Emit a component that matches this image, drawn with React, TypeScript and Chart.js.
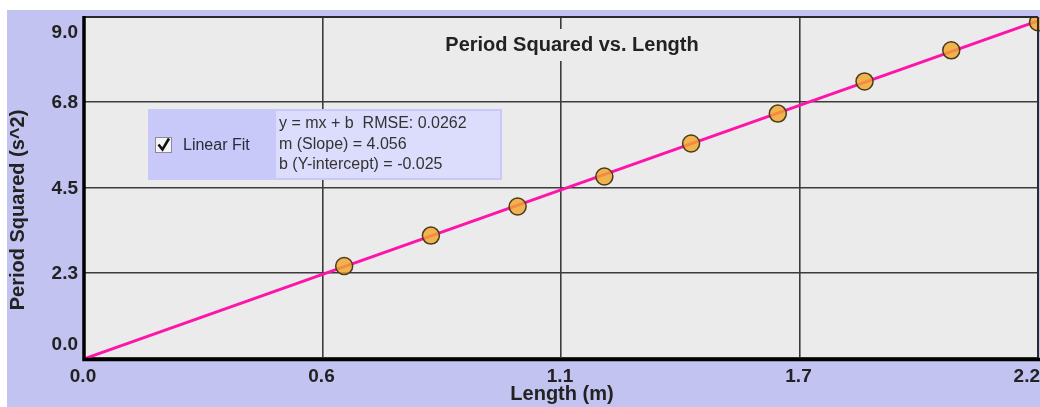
import React, { useEffect, useRef } from "react";
import { Chart, registerables } from "chart.js";

Chart.register(...registerables);

const lengths = [0.6, 0.8, 1.0, 1.2, 1.4, 1.6, 1.8, 2.0, 2.2];
const periodSquared = [2.43, 3.23, 4.0, 4.79, 5.66, 6.45, 7.3, 8.12, 8.86];
const fitX = [0, 2.2];
const fitY = [-0.025, 8.898];
const xTickValues = [0, 0.55, 1.1, 1.65, 2.2];
const xTickLabels = ["0.0", "0.6", "1.1", "1.7", "2.2"];
const yTickValues = [0, 2.25, 4.5, 6.75, 9];
const yTickLabels = ["0.0", "2.3", "4.5", "6.8", "9.0"];
const fitLines = ["y = mx + b  RMSE: 0.0262", "m (Slope) = 4.056", "b (Y-intercept) = -0.025"];
const titleText = "Period Squared vs. Length";
const xTitle = "Length (m)";
const yTitle = "Period Squared (s^2)";
const legendLabel = "Linear Fit";

const FONT = "'Liberation Sans', Arial, Helvetica, sans-serif";
const LAV = "#c3c3f1";
const TEXT = "#222222";

const decoPlugin = {
  id: "deco",
  beforeDraw(chart: any) {
    const { ctx, width, height, chartArea: a } = chart;
    ctx.save();
    ctx.fillStyle = "#ffffff";
    ctx.fillRect(0, 0, width, height);
    ctx.fillStyle = LAV;
    ctx.fillRect(7, 10, width - 7, height - 10);
    ctx.fillStyle = "#ebebeb";
    ctx.fillRect(a.left, a.top, a.right - a.left, a.bottom - a.top);
    ctx.restore();
  },
  afterDraw(chart: any) {
    const { ctx, chartArea: a, scales } = chart;
    const xs = scales.x;
    const ys = scales.y;
    ctx.save();

    // borders
    ctx.lineCap = "butt";
    ctx.strokeStyle = "#2a2a2a";
    ctx.lineWidth = 2;
    ctx.beginPath();
    ctx.moveTo(a.left, a.top);
    ctx.lineTo(a.right, a.top);
    ctx.moveTo(a.right, a.top);
    ctx.lineTo(a.right, a.bottom);
    ctx.stroke();
    ctx.strokeStyle = "#000";
    ctx.lineWidth = 3.5;
    ctx.beginPath();
    ctx.moveTo(a.left, a.top - 1);
    ctx.lineTo(a.left, a.bottom + 1.5);
    ctx.lineTo(a.right + 2, a.bottom + 1.5);
    ctx.stroke();

    // title with backdrop
    ctx.font = `bold 20px ${FONT}`;
    const tw = ctx.measureText(titleText).width;
    const tcx = 572;
    ctx.fillStyle = "#ebebeb";
    ctx.fillRect(tcx - tw / 2 - 6, 29, tw + 12, 32);
    ctx.fillStyle = TEXT;
    ctx.textAlign = "center";
    ctx.textBaseline = "middle";
    ctx.fillText(titleText, tcx, 45);

    // legend box
    const lx = 148, ly = 109, lw = 354, lh = 71, split = 276;
    ctx.fillStyle = "#c9c9f9";
    ctx.fillRect(lx, ly, lw, lh);
    ctx.fillStyle = "#dcdcfc";
    ctx.fillRect(split, ly + 2, lx + lw - split - 2, lh - 4);
    // checkbox
    ctx.fillStyle = "#f4f4f4";
    ctx.fillRect(155, 137, 17, 16);
    ctx.strokeStyle = "#8a8a9a";
    ctx.lineWidth = 1;
    ctx.strokeRect(155.5, 137.5, 16, 15);
    ctx.strokeStyle = "#111";
    ctx.lineWidth = 2.6;
    ctx.beginPath();
    ctx.moveTo(158.5, 144.5);
    ctx.lineTo(162.5, 149.5);
    ctx.lineTo(169, 138.5);
    ctx.stroke();
    ctx.fillStyle = "#2a2a3a";
    ctx.font = `16px ${FONT}`;
    ctx.textAlign = "left";
    ctx.textBaseline = "middle";
    ctx.fillText(legendLabel, 183, 146);
    ctx.fillStyle = "#333";
    ctx.font = `16px ${FONT}`;
    const lineYs = [124, 145, 165];
    fitLines.forEach((t, i) => ctx.fillText(t, 279, lineYs[i]));

    // y tick labels
    ctx.fillStyle = TEXT;
    ctx.font = `bold 19px ${FONT}`;
    ctx.textAlign = "right";
    ctx.textBaseline = "middle";
    yTickValues.forEach((v, i) => {
      let y = ys.getPixelForValue(v);
      if (i === 0) y -= 13;
      else if (i === yTickValues.length - 1) y += 15.5;
      else y += 1;
      ctx.fillText(yTickLabels[i], 78, y);
    });

    // x tick labels
    xTickValues.forEach((v, i) => {
      const x = xs.getPixelForValue(v);
      if (i === xTickValues.length - 1) {
        ctx.textAlign = "right";
        ctx.fillText(xTickLabels[i], 1040, 377);
      } else {
        ctx.textAlign = "center";
        ctx.fillText(xTickLabels[i], x - 1, 377);
      }
    });

    // axis titles
    ctx.font = `bold 20px ${FONT}`;
    ctx.textAlign = "center";
    ctx.fillText(xTitle, 562, 394);
    ctx.save();
    ctx.translate(18, 210);
    ctx.rotate(-Math.PI / 2);
    ctx.fillText(yTitle, 0, 0);
    ctx.restore();

    ctx.restore();
  },
};

export default function App() {
  const ref = useRef<HTMLCanvasElement | null>(null);
  useEffect(() => {
    if (!ref.current) return;
    const chart = new Chart(ref.current, {
      type: "scatter",
      data: {
        datasets: [
          {
            label: "Data",
            data: lengths.map((x, i) => ({ x, y: periodSquared[i] })),
            backgroundColor: "rgba(240,166,44,0.82)",
            borderColor: "#4a3c18",
            borderWidth: 1.5,
            pointRadius: 8.5,
            pointHoverRadius: 8.5,
            showLine: false,
            clip: { left: 0, top: 0, right: 6, bottom: 0 } as any,
            order: 0,
          },
          {
            label: "Linear Fit",
            data: fitX.map((x, i) => ({ x, y: fitY[i] })),
            borderColor: "#ff14aa",
            backgroundColor: "#ff14aa",
            borderWidth: 3,
            pointRadius: 0,
            showLine: true,
            clip: false as any,
            order: 1,
          },
        ],
      },
      options: {
        responsive: false,
        animation: false,
        events: [],
        layout: { autoPadding: false, padding: { left: 0, top: 17, right: 2, bottom: 0 } },
        plugins: {
          legend: { display: false },
          title: { display: false },
          tooltip: { enabled: false },
        },
        scales: {
          x: {
            type: "linear",
            min: 0,
            max: 2.2,
            afterBuildTicks: (s: any) => {
              s.ticks = xTickValues.map((v) => ({ value: v }));
            },
            afterFit: (s: any) => {
              s.height = 49;
            },
            ticks: { display: false },
            border: { display: false },
            grid: { color: "#3c3c3c", lineWidth: 1.6, drawTicks: false },
          },
          y: {
            type: "linear",
            min: 0,
            max: 9,
            afterBuildTicks: (s: any) => {
              s.ticks = yTickValues.map((v) => ({ value: v }));
            },
            afterFit: (s: any) => {
              s.width = 84;
            },
            ticks: { display: false },
            border: { display: false },
            grid: { color: "#3c3c3c", lineWidth: 1.6, drawTicks: false },
          },
        },
      },
      plugins: [decoPlugin],
    });
    return () => chart.destroy();
  }, []);
  return (
    <div style={{ position: "fixed", left: 0, top: 0, width: 1040, height: 407, overflow: "hidden" }}>
      <canvas ref={ref} width={1040} height={407} style={{ display: "block" }} />
    </div>
  );
}
